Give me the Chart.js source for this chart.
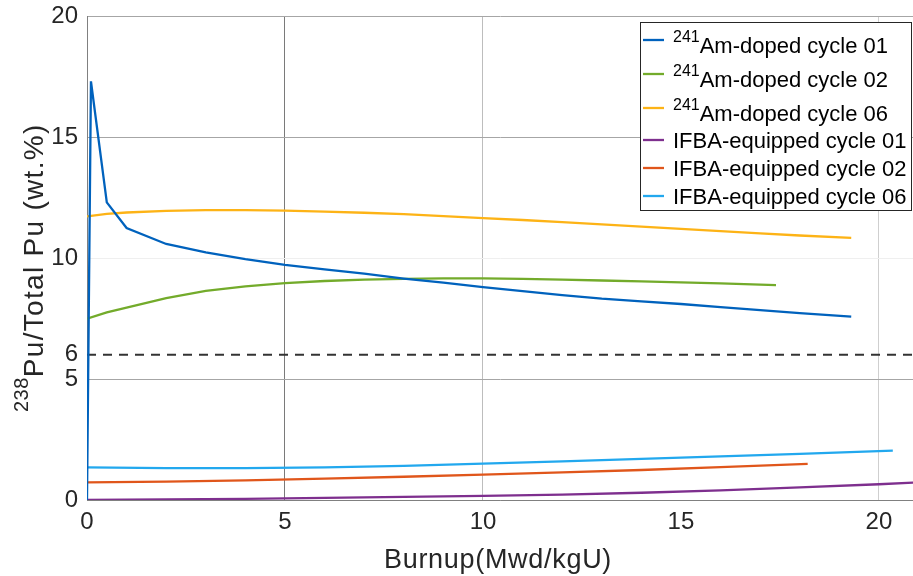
<!DOCTYPE html>
<html>
<head>
<meta charset="utf-8">
<script src="https://cdn.jsdelivr.net/npm/chart.js@4.4.0/dist/chart.umd.min.js"></script>
<style>
  html, body { margin: 0; padding: 0; background: #fff; }
  #wrap { width: 913px; height: 576px; position: relative; }
</style>
</head>
<body>
<div id="wrap"><canvas id="puChart"></canvas></div>
<script>
// Data (burnup in Mwd/kgU, 238Pu/Total Pu in wt.%)
const amC01X = [0, 0.1, 0.5, 1, 2, 3, 4, 5, 6, 7, 8, 9, 10, 11, 12, 13, 14, 15, 16, 17, 18, 19.3];
const amC01Y = [0, 17.3, 12.3, 11.24, 10.58, 10.23, 9.95, 9.72, 9.53, 9.35, 9.15, 8.98, 8.8, 8.63, 8.47, 8.32, 8.21, 8.1, 7.97, 7.85, 7.72, 7.58];

const amC02X = [0, 0.5, 1, 2, 3, 4, 5, 6, 7, 8, 9, 10, 11, 12, 13, 14, 15, 16, 17, 17.4];
const amC02Y = [7.49, 7.75, 7.95, 8.34, 8.64, 8.83, 8.96, 9.05, 9.11, 9.14, 9.16, 9.16, 9.14, 9.11, 9.07, 9.03, 8.99, 8.95, 8.9, 8.88];

const amC06X = [0, 0.5, 1, 2, 3, 4, 5, 6, 7, 8, 9, 10, 11, 12, 13, 14, 15, 16, 17, 18, 19.3];
const amC06Y = [11.72, 11.82, 11.88, 11.95, 11.98, 11.98, 11.96, 11.92, 11.87, 11.81, 11.73, 11.65, 11.57, 11.48, 11.39, 11.3, 11.2, 11.11, 11.02, 10.93, 10.83];

const ifbaC01X = [0, 2, 4, 6, 8, 10, 12, 14, 16, 18, 20, 21];
const ifbaC01Y = [0, 0.02, 0.05, 0.09, 0.13, 0.17, 0.22, 0.3, 0.4, 0.52, 0.65, 0.73];

const ifbaC02X = [0, 2, 4, 6, 8, 10, 12, 14, 16, 18.2];
const ifbaC02Y = [0.73, 0.76, 0.81, 0.88, 0.96, 1.05, 1.14, 1.24, 1.36, 1.49];

const ifbaC06X = [0, 2, 4, 6, 8, 10, 12, 14, 16, 18, 20.35];
const ifbaC06Y = [1.35, 1.32, 1.32, 1.35, 1.41, 1.5, 1.6, 1.7, 1.8, 1.91, 2.04];

const limitX = [0, 21];
const limitY = [6, 6];

const seriesSup = ['241', '241', '241', '', '', ''];
const seriesNames = ['Am-doped cycle 01', 'Am-doped cycle 02', 'Am-doped cycle 06',
                     'IFBA-equipped cycle 01', 'IFBA-equipped cycle 02', 'IFBA-equipped cycle 06'];
const seriesColors = ['#0062BD', '#73AB2B', '#FDB316', '#7E2F8E', '#E0561B', '#22A8EE'];

const xTicks = [0, 5, 10, 15, 20];
const yTicks = [0, 5, 6, 10, 15, 20];
const xTitle = 'Burnup(Mwd/kgU)';
const yTitleSup = '238';
const yTitle = 'Pu/Total Pu (wt.%)';

const FONT = '"Liberation Sans", Arial, Helvetica, sans-serif';
Chart.defaults.font.family = FONT;

function toPoints(xs, ys) {
    return xs.map((x, i) => ({ x: x, y: ys[i] }));
}

const seriesData = [
    toPoints(amC01X, amC01Y), toPoints(amC02X, amC02Y), toPoints(amC06X, amC06Y),
    toPoints(ifbaC01X, ifbaC01Y), toPoints(ifbaC02X, ifbaC02Y), toPoints(ifbaC06X, ifbaC06Y)
];

const datasets = seriesData.map((d, i) => ({
    label: seriesSup[i] + seriesNames[i],
    data: d,
    borderColor: seriesColors[i],
    borderWidth: 2.3,
    pointRadius: 0,
    tension: 0,
    fill: false
}));
datasets.push({
    label: 'limit',
    data: toPoints(limitX, limitY),
    borderColor: '#333333',
    borderWidth: 2,
    borderDash: [9, 7],
    pointRadius: 0,
    fill: false
});

// grid line shades, as in the picture
function xGridColor(v) {
    if (v === 5) return '#7a7a7a';
    if (v === 10) return '#bdbdbd';
    if (v === 20) return '#cfcfcf';
    if (v === 15) return 'rgba(0,0,0,0)';
    return '#808080';
}
function yGridColor(v) {
    if (v === 6) return 'rgba(0,0,0,0)';
    if (v === 10) return '#efefef';
    return '#a6a6a6';
}

// titles with superscripts and the boxed legend
const textPlugin = {
    id: 'texts',
    afterDraw(chart) {
        const c = chart.ctx;
        c.save();
        c.fillStyle = '#262626';
        c.textBaseline = 'alphabetic';

        // x title
        c.font = `27px ${FONT}`;
        c.letterSpacing = '0.7px';
        c.textAlign = 'center';
        c.fillText(xTitle, 498, 568);

        // y title, rotated
        c.save();
        c.translate(43, 412);
        c.rotate(-Math.PI / 2);
        c.textAlign = 'left';
        c.letterSpacing = '0.5px';
        c.font = `20px ${FONT}`;
        c.fillText(yTitleSup, 0, -15);
        const sw = c.measureText(yTitleSup).width;
        c.font = `28px ${FONT}`;
        c.letterSpacing = '1.3px';
        c.fillText(yTitle, sw, 0);
        c.restore();
        c.letterSpacing = '0px';

        // legend
        c.fillStyle = '#ffffff';
        c.fillRect(640, 22, 272, 189);
        c.strokeStyle = '#262626';
        c.lineWidth = 1;
        c.strokeRect(640.5, 22.5, 271, 188);
        const lineYs = [40, 74, 108, 140, 168, 196];
        const baseYs = [53, 87, 121, 148, 176, 204];
        c.textAlign = 'left';
        for (let i = 0; i < seriesNames.length; i++) {
            c.strokeStyle = seriesColors[i];
            c.lineWidth = 2.3;
            c.beginPath();
            c.moveTo(643, lineYs[i]);
            c.lineTo(664, lineYs[i]);
            c.stroke();
            c.fillStyle = '#000000';
            let tx = 673;
            if (seriesSup[i]) {
                c.font = `16px ${FONT}`;
                c.fillText(seriesSup[i], tx, baseYs[i] - 11);
                tx += c.measureText(seriesSup[i]).width;
            }
            c.font = `22px ${FONT}`;
            c.fillText(seriesNames[i], tx, baseYs[i]);
        }
        c.restore();
    }
};

const ctx = document.getElementById('puChart').getContext('2d');
const puChart = new Chart(ctx, {
    type: 'line',
    data: { datasets: datasets },
    plugins: [textPlugin],
    options: {
        responsive: true,
        maintainAspectRatio: false,
        animation: false,
        layout: { padding: { top: 16, right: 0, left: 0, bottom: 0 } },
        plugins: {
            legend: { display: false },
            tooltip: { enabled: false }
        },
        scales: {
            x: {
                type: 'linear',
                min: 0,
                max: 20.86,
                afterBuildTicks: s => { s.ticks = xTicks.map(v => ({ value: v })); },
                afterFit: s => { s.height = 76; s.paddingLeft = 0; s.paddingRight = 0; },
                grid: { color: c => xGridColor(c.tick.value), drawTicks: false },
                border: { color: '#808080' },
                ticks: { font: { size: 24 }, color: '#262626', padding: 8, maxRotation: 0, autoSkip: false }
            },
            y: {
                type: 'linear',
                min: 0,
                max: 20,
                afterBuildTicks: s => { s.ticks = yTicks.map(v => ({ value: v })); },
                afterFit: s => { s.width = 87; s.paddingTop = 0; s.paddingBottom = 0; },
                grid: { color: c => yGridColor(c.tick.value), drawTicks: false },
                border: { color: '#808080' },
                ticks: { font: { size: 24 }, color: '#262626', padding: 9, autoSkip: false }
            }
        }
    }
});
</script>
</body>
</html>
